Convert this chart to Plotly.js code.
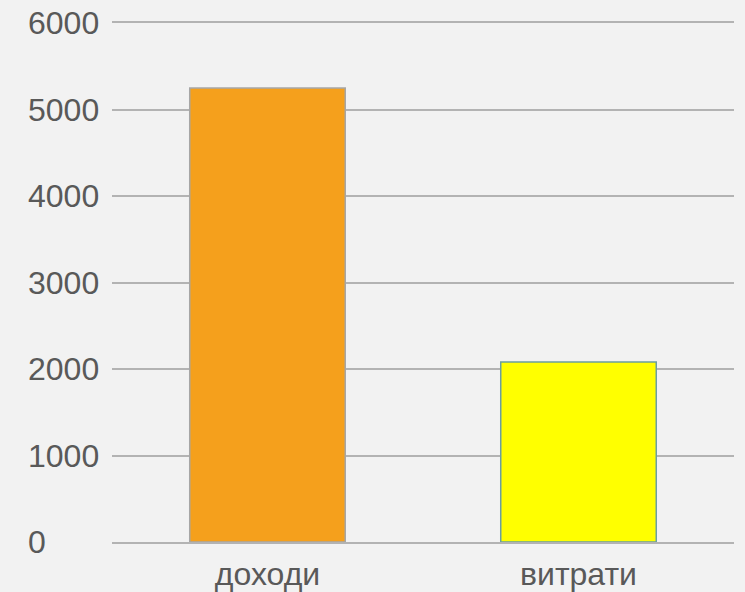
<!DOCTYPE html>
<html>
<head>
<meta charset="utf-8">
<script src="https://cdn.plot.ly/plotly-3.0.1.min.js"></script>
<style>html,body{margin:0;padding:0;background:#f2f2f2;}#chart{width:745px;height:592px;}</style>
</head>
<body>
<div id="chart"></div>
<script>
const categories = ["доходи", "витрати"];
const values = [5250, 2080];
const barColors = ["#F5A01C", "#FFFF00"];
const barLineColors = ["#a6a6a6", "#6a9fa0"];
const yTicks = [0, 1000, 2000, 3000, 4000, 5000, 6000];

const trace = {
  type: "bar",
  x: categories,
  y: values,
  marker: { color: barColors, line: { color: barLineColors, width: 1.5 } },
  hoverinfo: "x+y"
};

// invisible helper trace so the left-aligned tick-label axis (y2) is drawn
const labelTrace = {
  type: "scatter",
  mode: "markers",
  x: categories,
  y: values,
  yaxis: "y2",
  marker: { opacity: 0 },
  hoverinfo: "skip"
};

const labelFont = { family: "Liberation Sans, Arial, sans-serif", size: 32, color: "#595959" };

const layout = {
  width: 745,
  height: 592,
  margin: { l: 27, r: 11, t: 23, b: 50 },
  paper_bgcolor: "#f2f2f2",
  plot_bgcolor: "#f2f2f2",
  showlegend: false,
  bargap: 0.5,
  xaxis: {
    domain: [0.1202, 1],
    showgrid: false,
    zeroline: false,
    showline: true,
    mirror: true,
    linecolor: "#b3b3b3",
    linewidth: 2,
    ticks: "",
    ticklabelstandoff: 3,
    tickfont: labelFont
  },
  yaxis: {
    range: [0, 6000],
    tickvals: yTicks,
    showticklabels: false,
    showgrid: true,
    gridcolor: "#b3b3b3",
    gridwidth: 2,
    zeroline: false,
    showline: false,
    ticks: ""
  },
  yaxis2: {
    overlaying: "y",
    side: "right",
    anchor: "free",
    position: 0,
    range: [0, 6000],
    tickvals: yTicks,
    ticktext: yTicks.map(String),
    showgrid: false,
    zeroline: false,
    showline: false,
    ticks: "",
    tickfont: labelFont
  }
};

Plotly.newPlot("chart", [trace, labelTrace], layout, { displayModeBar: false, staticPlot: true });
</script>
</body>
</html>
